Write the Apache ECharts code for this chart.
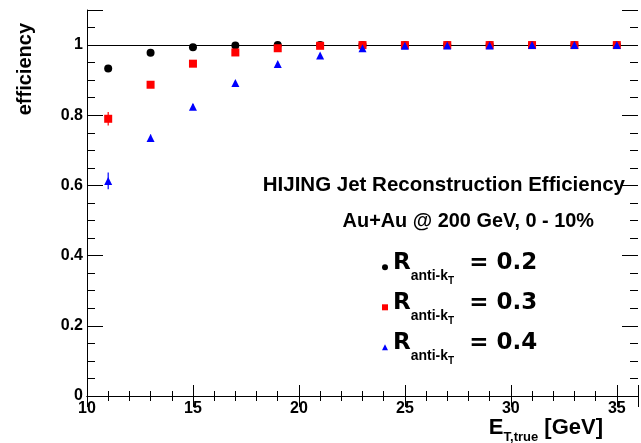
<!DOCTYPE html>
<html>
<head>
<meta charset="utf-8">
<script src="https://cdn.jsdelivr.net/npm/echarts@6/dist/echarts.min.js"></script>
<style>
html, body { margin: 0; padding: 0; background: #fff; }
#main { width: 641px; height: 443px; }
</style>
</head>
<body>
<div id="main"></div>
<script>
var etTrue = [11, 13, 15, 17, 19, 21, 23, 25, 27, 29, 31, 33, 35];
var effR02 = [0.933, 0.978, 0.994, 0.999, 1.0, 1.0, 1.0, 1.0, 1.0, 1.0, 1.0, 1.0, 1.0];
var effR03 = [0.790, 0.887, 0.947, 0.979, 0.991, 0.998, 1.0, 1.0, 1.0, 1.0, 1.0, 1.0, 1.0];
var effR04 = [0.613, 0.735, 0.824, 0.892, 0.946, 0.970, 0.991, 0.998, 0.999, 0.999, 1.0, 1.0, 1.0];
var errR02 = [0.004, 0.003, 0.002, 0.001, 0.001, 0, 0, 0, 0, 0, 0, 0, 0];
var errR03 = [0.019, 0.008, 0.005, 0.004, 0.002, 0.001, 0, 0, 0, 0, 0, 0, 0];
var errR04 = [0.024, 0.010, 0.008, 0.006, 0.004, 0.003, 0.002, 0.001, 0, 0, 0, 0, 0];
var radii = ['0.2', '0.3', '0.4'];

var FONT = 'Liberation Sans';
var chart = echarts.init(document.getElementById('main'));

function pts(ys) {
    return etTrue.map(function (x, i) { return [x, ys[i]]; });
}
function errPts(ys, es) {
    return etTrue.map(function (x, i) { return [x, ys[i] - es[i], ys[i] + es[i]]; });
}
function errSeries(ys, es, color) {
    return {
        type: 'custom',
        z: 5,
        silent: true,
        data: errPts(ys, es),
        encode: { x: 0, y: [1, 2] },
        renderItem: function (params, api) {
            var p1 = api.coord([api.value(0), api.value(1)]);
            var p2 = api.coord([api.value(0), api.value(2)]);
            return {
                type: 'line',
                shape: { x1: p1[0], y1: p1[1], x2: p2[0], y2: p2[1] },
                style: { stroke: color, lineWidth: 1.2 }
            };
        }
    };
}
// ROOT style axis: major + minor ticks drawn inside
function xAx(pos, interval, len, labels, line) {
    return {
        type: 'value', position: pos, min: 10, max: 36, interval: interval,
        axisLine: { show: line, lineStyle: { color: '#000', width: 1 } },
        axisTick: { show: true, inside: true, length: len, lineStyle: { color: '#000', width: 1 } },
        axisLabel: {
            show: labels, margin: 5, color: '#000', fontFamily: FONT, fontWeight: 'bold', fontSize: 16,
            formatter: function (v) { return v % 5 === 0 ? String(v) : ''; }
        },
        splitLine: { show: false }
    };
}
function yAx(pos, interval, len, labels, line) {
    return {
        type: 'value', position: pos, min: 0, max: 1.1, interval: interval,
        axisLine: { show: line, lineStyle: { color: '#000', width: 1 } },
        axisTick: { show: true, inside: true, length: len, lineStyle: { color: '#000', width: 1 } },
        axisLabel: {
            show: labels, margin: 4, color: '#000', fontFamily: FONT, fontWeight: 'bold', fontSize: 16,
            formatter: function (v) { return v > 1.05 ? '' : String(Math.round(v * 10) / 10); }
        },
        splitLine: { show: false }
    };
}

var names = radii.map(function (r) { return 'R = ' + r; });
var BIG = 'DejaVu Sans';

chart.setOption({
    animation: false,
    backgroundColor: '#fff',
    grid: { left: 87, right: 0, top: 10, bottom: 47 },
    title: [
        {
            text: 'HIJING Jet Reconstruction Efficiency', right: 16, top: 175, padding: 0,
            textStyle: { fontFamily: FONT, fontWeight: 'bold', fontSize: 20.5, color: '#000' }
        },
        {
            text: 'Au+Au @ 200 GeV, 0 - 10%', right: 47, top: 212, padding: 0,
            textStyle: { fontFamily: FONT, fontWeight: 'bold', fontSize: 19.9, color: '#000' }
        }
    ],
    legend: {
        orient: 'vertical', left: 382, top: 248, padding: 0, itemGap: 1.4,
        itemWidth: 6, itemHeight: 6, selectedMode: false,
        data: [
            { name: names[0], icon: 'circle' },
            { name: names[1], icon: 'rect' },
            { name: names[2], icon: 'triangle' }
        ],
        formatter: function (name) {
            return '{r|R}{s|anti-k}{t|T}{e|= ' + name.split('= ')[1] + '}';
        },
        textStyle: {
            color: '#000',
            rich: {
                r: { fontFamily: BIG, fontWeight: 'bold', fontSize: 23, lineHeight: 23, padding: [0, 0, 8, 0] },
                s: { fontFamily: FONT, fontWeight: 'bold', fontSize: 14, lineHeight: 14, padding: [18.6, 0, 0, 0] },
                t: { fontFamily: FONT, fontWeight: 'bold', fontSize: 10, lineHeight: 10, padding: [28.6, 0, 0, 0] },
                e: { fontFamily: BIG, fontWeight: 'bold', fontSize: 23, lineHeight: 23, padding: [0, 0, 8, 15] }
            }
        }
    },
    graphic: [
        {
            type: 'text', x: 25, y: 23, rotation: Math.PI / 2,
            style: {
                text: 'efficiency', align: 'right', verticalAlign: 'middle', fill: '#000',
                font: 'bold 20px "Liberation Sans"'
            }
        },
        {
            type: 'text', x: 603, y: 431,
            style: {
                text: '{e|E}{s|T,true}{e| [GeV]}', align: 'right', verticalAlign: 'middle', fill: '#000',
                rich: {
                    e: { fontFamily: FONT, fontWeight: 'bold', fontSize: 22, lineHeight: 22, padding: [0, 0, 6, 0] },
                    s: { fontFamily: FONT, fontWeight: 'bold', fontSize: 13, lineHeight: 13, padding: [12, 0, 0, 0] }
                }
            }
        }
    ],
    xAxis: [
        xAx('bottom', 5, 11, true, true),
        xAx('bottom', 1, 5, false, false),
        xAx('top', 5, 11, false, true),
        xAx('top', 1, 5, false, false)
    ],
    yAxis: [
        yAx('left', 0.2, 16, true, true),
        yAx('left', 0.05, 8, false, false),
        yAx('right', 0.2, 16, false, false),
        yAx('right', 0.05, 8, false, false)
    ],
    series: [
        {
            type: 'line', data: [], silent: true,
            markLine: {
                silent: true, symbol: ['none', 'none'], label: { show: false },
                lineStyle: { color: '#000', width: 1, type: 'solid' },
                data: [{ yAxis: 1 }]
            }
        },
        errSeries(effR02, errR02, '#000'),
        { name: names[0], type: 'scatter', z: 10, symbol: 'circle', symbolSize: 8, itemStyle: { color: '#000', opacity: 1 }, data: pts(effR02) },
        errSeries(effR03, errR03, '#ff0000'),
        { name: names[1], type: 'scatter', z: 11, symbol: 'rect', symbolSize: 8, itemStyle: { color: '#ff0000', opacity: 1 }, data: pts(effR03) },
        errSeries(effR04, errR04, '#0000ff'),
        { name: names[2], type: 'scatter', z: 12, symbol: 'triangle', symbolSize: [8, 8], itemStyle: { color: '#0000ff', opacity: 1 }, data: pts(effR04) }
    ]
});
</script>
</body>
</html>
